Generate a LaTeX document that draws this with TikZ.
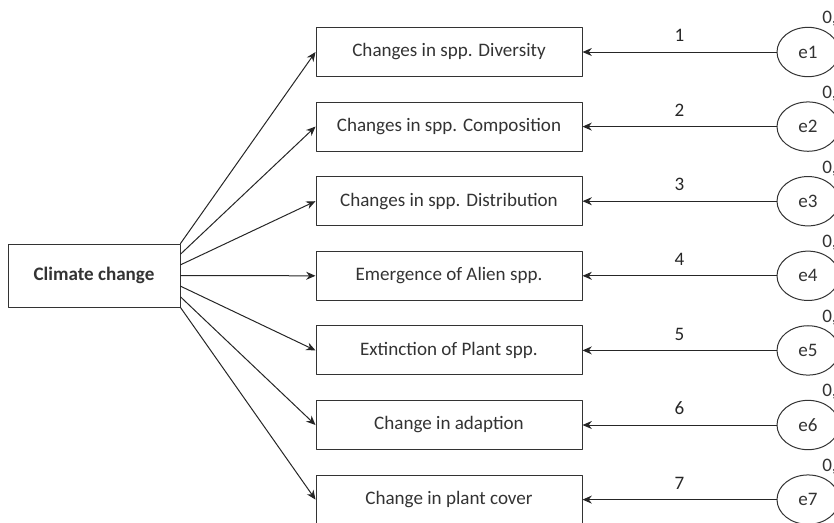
\documentclass[tikz,border=0pt]{standalone}
\usepackage{fontspec}
\setmainfont{Carlito}
\usepackage{tikz}
\usetikzlibrary{arrows.meta}
\usetikzlibrary{calc}
\usetikzlibrary{shapes.geometric}
\definecolor{txtgray}{rgb}{0.2,0.2,0.2}

\begin{document}
\begin{tikzpicture}[line cap=round,line join=round,x=0.75pt,y=-0.75pt,
  font=\fontsize{14.3}{16}\selectfont,text=txtgray,
  effbox/.style={draw=black!80,line width=0.75pt,minimum width=199.5pt,minimum height=36.75pt,inner sep=0pt},
  errell/.style={draw=black!80,line width=0.75pt,ellipse,minimum width=46.5pt,minimum height=37pt,inner sep=0pt},
  pathline/.style={-{Stealth[length=7pt,width=6pt]},line width=0.75pt,black!85}]
\useasboundingbox (0,0) rectangle (834,522);
\clip (0,0) rectangle (834,522);
\node[draw=black!80,line width=0.75pt,minimum width=129pt,minimum height=47.25pt,inner sep=0pt,
  font=\fontsize{14.3}{16}\selectfont\bfseries] (climate) at (94,275.5) {Climate change};
\foreach \i/\txt in {1/Changes in spp. Diversity,2/Changes in spp. Composition,
  3/Changes in spp. Distribution,4/Emergence of Alien spp.,5/Extinction of Plant spp.,
  6/Change in adaption,7/Change in plant cover}
{
  \pgfmathsetmacro{\ry}{52+74.6*(\i-1)}
  \node[effbox] (b\i) at (449,\ry) {\txt};
  \node[errell] (e\i) at (808,\ry) {e\i};
  \node (v\i) at (829.5,\ry-33) {0,};
  \coordinate (s\i) at ($(climate.north east)!{(\i-1)/6}!(climate.south east)$);
  \draw[pathline] (s\i) -- (b\i.west);
  \draw[pathline] (e\i.west) -- node[above=4pt] {\i} (b\i.east);
}
\end{tikzpicture}
\end{document}
